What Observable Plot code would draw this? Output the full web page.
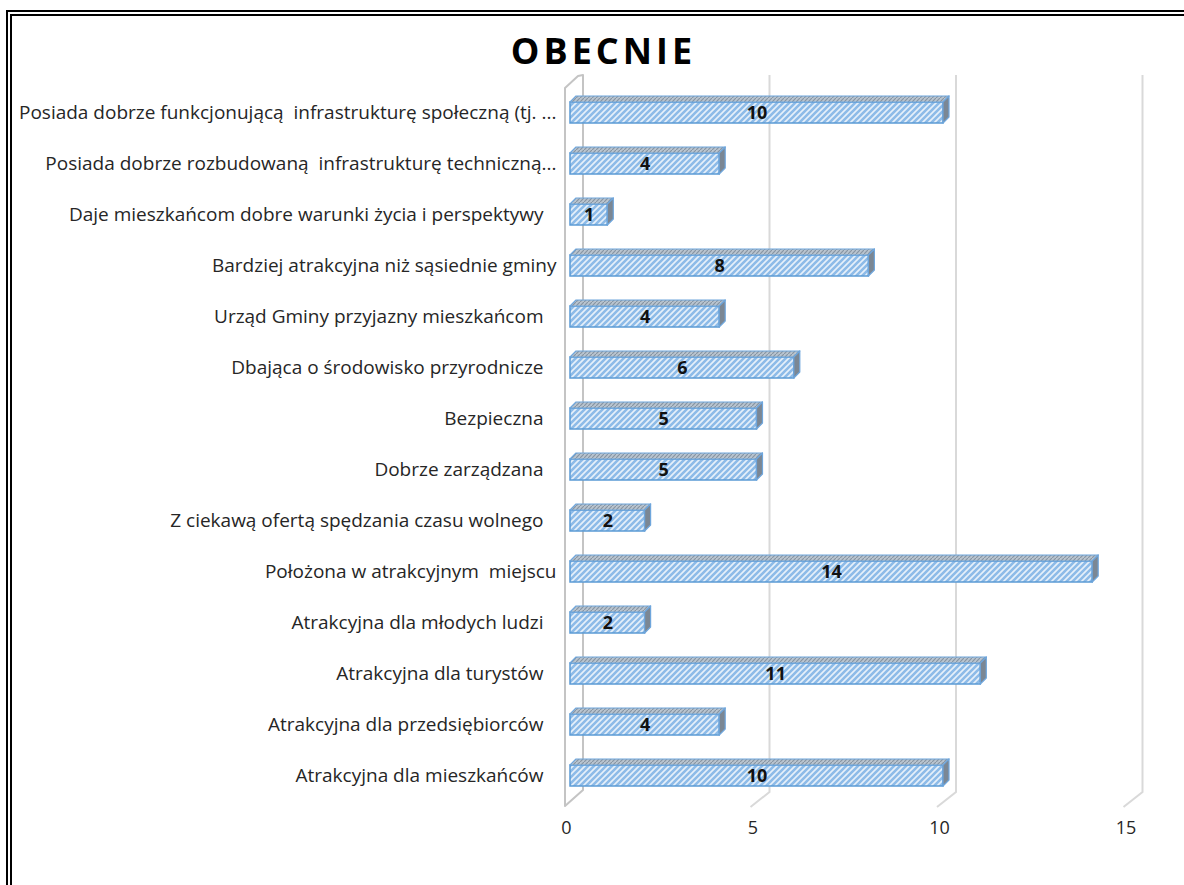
<!DOCTYPE html>
<html>
<head>
<meta charset="utf-8">
<script src="https://cdn.jsdelivr.net/npm/d3@7"></script>
<script src="https://cdn.jsdelivr.net/npm/@observablehq/plot@0.6"></script>
<style>
  html, body { margin: 0; padding: 0; background: #fff; width: 1184px; height: 885px; overflow: hidden; }
  #frame { position: absolute; left: 6px; top: 10px; width: 1220px; height: 920px; border: 6px double #000; box-sizing: border-box; }
  #title { position: absolute; left: 0; top: 33px; width: 1207px; text-align: center; font-family: "Open Sans"; font-weight: 700; font-size: 36px; line-height: 36px; letter-spacing: 4px; color: #000; }
  #chart { position: absolute; left: 0; top: 70px; }
</style>
</head>
<body>
<div id="frame"></div>
<div id="title">OBECNIE</div>
<div id="chart"></div>
<script>
// ---- data ----
const categories = [
  "Posiada dobrze funkcjonującą  infrastrukturę społeczną (tj. ...",
  "Posiada dobrze rozbudowaną  infrastrukturę techniczną...",
  "Daje mieszkańcom dobre warunki życia i perspektywy",
  "Bardziej atrakcyjna niż sąsiednie gminy",
  "Urząd Gminy przyjazny mieszkańcom",
  "Dbająca o środowisko przyrodnicze",
  "Bezpieczna",
  "Dobrze zarządzana",
  "Z ciekawą ofertą spędzania czasu wolnego",
  "Położona w atrakcyjnym  miejscu",
  "Atrakcyjna dla młodych ludzi",
  "Atrakcyjna dla turystów",
  "Atrakcyjna dla przedsiębiorców",
  "Atrakcyjna dla mieszkańców"
];
const values = [10, 4, 1, 8, 4, 6, 5, 5, 2, 14, 2, 11, 4, 10];
const xTicks = [0, 5, 10, 15];
const gridTicks = [5, 10, 15];
// labels that Excel drew flush further to the right (trailing text)
const wideLabels = [categories[0], categories[1], categories[3], categories[9]];

const data = categories.map((c, i) => ({label: c, value: values[i]}));

const FONT = "Open Sans";
const BAR_H = 21, DEPTH = 6;
const FRONT_OFF = -5, BACK_OFF = 13;

// back wall + grid (drawn beneath the bars)
function wallMark(index, scales, vals, dims) {
  const {x} = scales;
  const bottom = dims.height - dims.marginBottom;
  const yFront = bottom + 5, yBack = bottom - 11;
  const topFront = dims.marginTop + 2, topBack = dims.marginTop - 11;
  const g = d3.create("svg:g");
  const x0f = x(0) + FRONT_OFF, x0b = x(0) + BACK_OFF;
  g.append("path")
    .attr("d", `M${x0f},${yFront}L${x0f},${topFront}L${x0b - 5},${topBack + 1}L${x0b},${topBack}L${x0b},${yBack}Z`)
    .attr("fill", "#fff").attr("stroke", "#c4c4c4").attr("stroke-width", 2).attr("stroke-linejoin", "round");
  for (const v of gridTicks) {
    const xb = x(v) + BACK_OFF, xf = x(v) + FRONT_OFF - 1;
    g.append("path")
      .attr("d", `M${xb},${topBack}L${xb},${yBack + 2}L${xf},${yFront + 1}`)
      .attr("fill", "none").attr("stroke", "#d9d9d9").attr("stroke-width", 2);
  }
  return g.node();
}

// top and side faces of the 3D bars
function facesMark(index, scales, vals, dims) {
  const {x, y} = scales;
  const bw = y.bandwidth ? y.bandwidth() : 0;
  const g = d3.create("svg:g");
  data.forEach(d => {
    const yc = y(d.label) + bw / 2;
    const yt = yc - BAR_H / 2, yb = yc + BAR_H / 2;
    const x0 = x(0), x1 = x(d.value);
    g.append("path")
      .attr("d", `M${x0},${yt}L${x1},${yt}L${x1 + DEPTH},${yt - DEPTH}L${x0 + DEPTH},${yt - DEPTH}Z`)
      .attr("fill", "url(#hatchTop)").attr("stroke", "#6fa6dc").attr("stroke-width", 1.2).attr("stroke-linejoin", "round");
    g.append("path")
      .attr("d", `M${x1},${yt}L${x1 + DEPTH},${yt - DEPTH}L${x1 + DEPTH},${yb - DEPTH}L${x1},${yb}Z`)
      .attr("fill", "#7b8794").attr("stroke", "#6fa6dc").attr("stroke-width", 1.2).attr("stroke-linejoin", "round");
  });
  return g.node();
}

const plot = Plot.plot({
  width: 1184,
  height: 815,
  marginLeft: 570,
  marginRight: 54.5,
  marginTop: 16,
  marginBottom: 84,
  style: {fontFamily: FONT, background: "transparent"},
  x: {domain: [0, 15], axis: null},
  y: {domain: categories, padding: 0, axis: null},
  marks: [
    wallMark,
    Plot.barX(data, {
      x: "value", y: "label",
      fill: "url(#hatchFront)", stroke: "#5b9bd5", strokeWidth: 1.5,
      insetTop: 15, insetBottom: 15
    }),
    facesMark,
    Plot.text(data, {
      x: d => d.value / 2, y: "label", text: d => String(d.value),
      fontWeight: "bold", fontSize: 18, fill: "#111", fontFamily: FONT
    }),
    Plot.text(categories.filter(c => !wideLabels.includes(c)), {
      x: () => 0, y: d => d, text: d => d, textAnchor: "end", dx: -27,
      fontSize: 19, fill: "#262626", fontFamily: FONT
    }),
    Plot.text(wideLabels, {
      x: () => 0, y: d => d, text: d => d, textAnchor: "end", dx: -14,
      fontSize: 19, fill: "#262626", fontFamily: FONT
    }),
    Plot.text(xTicks, {
      x: d => d, text: d => String(d), frameAnchor: "bottom", dy: 32, dx: -4,
      fontSize: 18, fill: "#262626", fontFamily: FONT
    })
  ]
});

// hatch patterns
const svg = d3.select(plot);
const defs = svg.insert("defs", ":first-child");
const pf = defs.append("pattern").attr("id", "hatchFront").attr("patternUnits", "userSpaceOnUse")
  .attr("width", 6).attr("height", 6);
pf.append("rect").attr("width", 6).attr("height", 6).attr("fill", "#e6f0fa");
pf.append("path").attr("d", "M0,6L6,0M-1.5,1.5L1.5,-1.5M4.5,7.5L7.5,4.5")
  .attr("stroke", "#8dbbe8").attr("stroke-width", 2.6);
const pt = defs.append("pattern").attr("id", "hatchTop").attr("patternUnits", "userSpaceOnUse")
  .attr("width", 4).attr("height", 4);
pt.append("rect").attr("width", 4).attr("height", 4).attr("fill", "#b9c4cf");
pt.append("path").attr("d", "M0,4L4,0").attr("stroke", "#8795a3").attr("stroke-width", 1.2);

document.getElementById("chart").appendChild(plot);
</script>
</body>
</html>
